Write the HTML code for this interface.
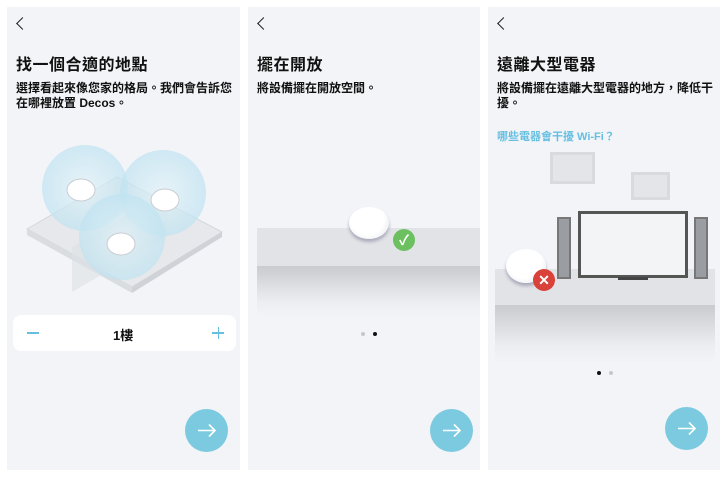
<!DOCTYPE html>
<html><head><meta charset="utf-8"><style>
*{margin:0;padding:0;box-sizing:border-box}
body{width:728px;height:477px;background:#fff;position:relative;overflow:hidden;font-family:"Liberation Sans","Noto Sans CJK TC",sans-serif;color:#111}
.p{position:absolute;top:7px;height:463px;background:#f3f4f8;overflow:hidden}
.a{position:absolute}
.back{position:absolute;left:11px;top:12px;width:9px;height:9px;border-left:1.4px solid #222;border-bottom:1.4px solid #222;transform:rotate(45deg)}
h1{position:absolute;left:9px;top:44px;font-size:16px;font-weight:bold;letter-spacing:0.5px}
.d{position:absolute;left:9px;top:74px;font-size:12px;font-weight:bold;line-height:15px}
.btn{position:absolute;width:43px;height:43px;border-radius:50%;background:#7ccae0}
.dev{position:absolute;border-radius:50%;background:radial-gradient(circle at 45% 35%,#fff 55%,#dde3e8);box-shadow:0 3px 3px #aab}
</style></head><body>
<svg width="0" height="0" style="position:absolute"><defs><symbol id="ar" viewBox="0 0 43 43"><path d="M13 21.5H30M24 15.5L30 21.5L24 27.5" stroke="#fff" stroke-width="1.6" fill="none"/></symbol></defs></svg>
<!-- panel 1 -->
<div class="p" style="left:7px;width:233px">
<div class="back"></div>
<h1>找一個合適的地點</h1>
<div class="d" style="width:225px">選擇看起來像您家的格局。我們會告訴您在哪裡放置 Decos。</div>
<svg class="a" style="left:0;top:130px" width="233" height="160">
<defs><radialGradient id="g"><stop offset="0" stop-color="#e2f2f8"/><stop offset="1" stop-color="#bfe3f1"/></radialGradient></defs>
<polygon points="20,92 110,40 215,95 125,150" fill="#e6e8eb" stroke="#d3d6da"/>
<polygon points="125,150 215,95 215,100 125,156" fill="#cfd2d6"/>
<polygon points="20,92 125,150 125,156 20,98" fill="#dadde0"/>
<polygon points="65,110 160,55 160,100 65,155" fill="#dde1e5" opacity="0.6"/>
<circle cx="78" cy="51" r="43" fill="url(#g)" opacity="0.7"/>
<circle cx="156" cy="56" r="43" fill="url(#g)" opacity="0.7"/>
<circle cx="115" cy="100" r="43" fill="url(#g)" opacity="0.7"/>
<ellipse cx="74" cy="53" rx="14" ry="11" fill="#fff" stroke="#c8ccd2"/>
<ellipse cx="158" cy="63" rx="14" ry="11" fill="#fff" stroke="#c8ccd2"/>
<ellipse cx="114" cy="107" rx="14" ry="11" fill="#fff" stroke="#c8ccd2"/>
</svg>
<div class="a" style="left:6px;top:308px;width:223px;height:36px;background:#fff;border-radius:8px">
<div class="a" style="left:14px;top:17px;width:12px;height:1.5px;background:#66bfe0"></div>
<span class="a" style="left:100px;top:10px;font-size:13px;font-weight:bold">1樓</span>
<div class="a" style="left:199px;top:17px;width:12px;height:1.5px;background:#66bfe0"></div>
<div class="a" style="left:204.5px;top:11.5px;width:1.5px;height:12px;background:#66bfe0"></div>
</div>
<svg class="btn" style="left:178px;top:402px"><use href="#ar"/></svg>
</div>
<!-- panel 2 -->
<div class="p" style="left:248px;width:232px">
<div class="back"></div>
<h1>擺在開放</h1>
<div class="d">將設備擺在開放空間。</div>
<div class="a" style="left:9px;top:221px;width:223px;height:38px;background:#e2e3e7"></div>
<div class="a" style="left:9px;top:259px;width:223px;height:52px;background:linear-gradient(#c9cbcf,#eceef1 70%,#f3f4f8)"></div>
<div class="dev" style="left:101px;top:200px;width:40px;height:32px"></div>
<div class="a" style="left:145px;top:222px;width:22px;height:22px;border-radius:50%;background:#6cc060;color:#fff;font-size:14px;text-align:center;line-height:22px;font-weight:bold">✓</div>
<div class="a" style="left:113px;top:325px;width:4px;height:4px;border-radius:50%;background:#c8c8cc"></div>
<div class="a" style="left:125px;top:325px;width:4px;height:4px;border-radius:50%;background:#111"></div>
<svg class="btn" style="left:182px;top:402px"><use href="#ar"/></svg>
</div>
<!-- panel 3 -->
<div class="p" style="left:488px;width:232px">
<div class="back"></div>
<h1>遠離大型電器</h1>
<div class="d" style="width:225px">將設備擺在遠離大型電器的地方，降低干擾。</div>
<div class="a" style="left:9px;top:121px;font-size:11px;font-weight:bold;color:#66bfe0">哪些電器會干擾 Wi-Fi？</div>
<div class="a" style="left:62px;top:145px;width:45px;height:32px;background:#e4e5e8;border:3px solid #d9dadd"></div>
<div class="a" style="left:143px;top:165px;width:39px;height:28px;background:#e4e5e8;border:3px solid #d9dadd"></div>
<div class="a" style="left:7px;top:262px;width:220px;height:36px;background:#e2e3e7"></div>
<div class="a" style="left:7px;top:298px;width:220px;height:60px;background:linear-gradient(#c9cbcf,#eceef1 70%,#f3f4f8)"></div>
<div class="a" style="left:69px;top:210px;width:14px;height:62px;background:#9a9da2;border:2px solid #777"></div>
<div class="a" style="left:206px;top:210px;width:14px;height:62px;background:#9a9da2;border:2px solid #777"></div>
<div class="a" style="left:90px;top:204px;width:110px;height:67px;background:#f2f4f6;border:3px solid #555"></div>
<div class="a" style="left:130px;top:270px;width:30px;height:3px;background:#444"></div>
<div class="dev" style="left:18px;top:242px;width:40px;height:34px"></div>
<div class="a" style="left:45px;top:262px;width:22px;height:22px;border-radius:50%;background:#d8423a;color:#fff;font-size:14px;text-align:center;line-height:22px;font-weight:bold">✕</div>
<div class="a" style="left:109px;top:364px;width:4px;height:4px;border-radius:50%;background:#111"></div>
<div class="a" style="left:121px;top:364px;width:4px;height:4px;border-radius:50%;background:#c8c8cc"></div>
<svg class="btn" style="left:177px;top:400px"><use href="#ar"/></svg>
</div>
</body></html>
